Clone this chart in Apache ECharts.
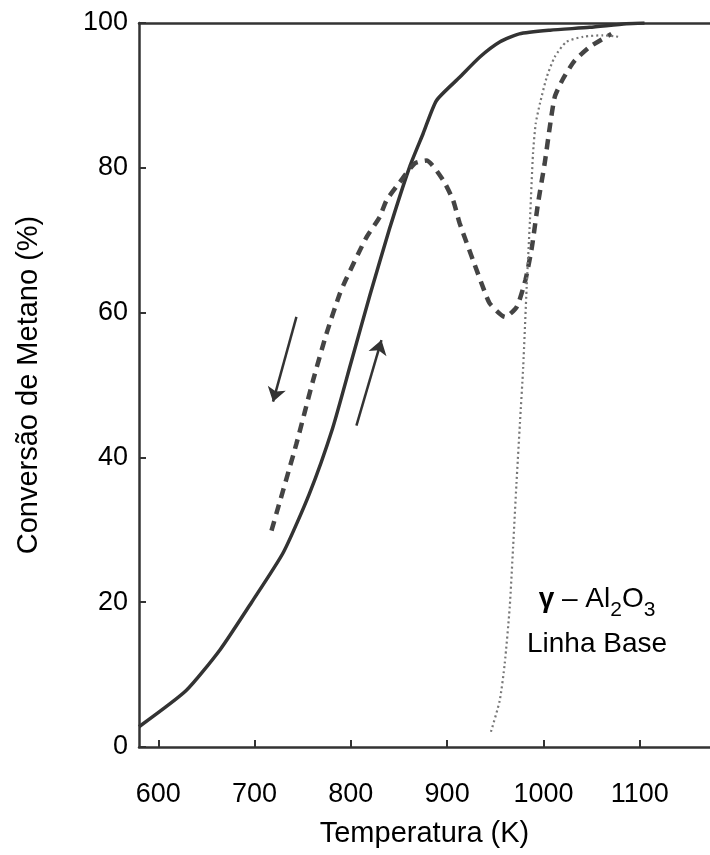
<!DOCTYPE html>
<html>
<head>
<meta charset="utf-8">
<script src="https://cdn.jsdelivr.net/npm/echarts@6/dist/echarts.min.js"></script>
<style>
  html, body { margin: 0; padding: 0; background: #fff; }
  #chart { width: 710px; height: 855px; }
</style>
</head>
<body>
<div id="chart"></div>
<script>
// eixo X (Temperatura, K)
const xTicks = [600, 700, 800, 900, 1000, 1100];
const yTicks = [0, 20, 40, 60, 80, 100];

// aquecimento - linha cheia
const heatTemp = [580, 629, 664, 697, 730, 757, 781, 800, 820, 840, 861, 875, 889, 913, 934, 955, 975, 1007, 1048, 1086, 1105];
const heatConv = [2.8, 7.8, 13.4, 20.0, 26.9, 35.0, 44.0, 53.0, 62.5, 71.5, 80.1, 84.7, 89.3, 92.5, 95.3, 97.4, 98.5, 99.0, 99.4, 99.9, 100];

// resfriamento - tracejada
const coolTemp = [717.6, 743.5, 760.7, 774.7, 788.5, 795.4, 816.2, 830, 837, 850.8, 866.3, 878.5, 895.8, 906.2, 913.1, 927, 939.8, 944.6, 960.2, 972.3, 981.3, 988.1, 994.4, 1001.3, 1006.6, 1011.8, 1020.4, 1032.5, 1048.1, 1070.6];
const coolConv = [29.9, 41.9, 50.6, 57.1, 62.6, 64.7, 70.4, 73.2, 75.5, 78.0, 80.6, 81.0, 78.3, 75.5, 72.3, 67.2, 62.6, 61.2, 59.4, 60.8, 64.5, 69.1, 75.1, 80.6, 85.6, 89.8, 92.3, 94.8, 96.7, 98.5];

// gama-Al2O3 linha base - pontilhada
const baseTemp = [945.5, 954.6, 959.8, 965, 968.5, 972, 975.6, 979, 982.6, 986, 989.2, 992, 996.4, 1003.4, 1011.7, 1023.9, 1041.2, 1062, 1077.6];
const baseConv = [2.1, 6.4, 11.5, 19.3, 27.6, 36.4, 44.7, 52.5, 63.5, 72.7, 82.0, 86.1, 88.9, 92.5, 95.3, 97.4, 98.1, 98.3, 98.1];

// setas
const arrowDown = [[743.5, 59.4], [719.2, 47.7]];
const arrowUp = [[805.8, 44.4], [831.8, 56.2]];

const zip = (xs, ys) => xs.map((x, i) => [x, ys[i]]);

const FONT = '"Liberation Sans", Arial, sans-serif';
const INK = '#000';
const AXIS = '#333';

const chart = echarts.init(document.getElementById('chart'));

// medir texto para os subscritos
const ctx = document.createElement('canvas').getContext('2d');
function textW(t, size, weight) {
    ctx.font = (weight || 'normal') + ' ' + size + 'px ' + FONT;
    return ctx.measureText(t).width;
}

const pieces = [
    { t: 'γ', size: 28, dy: 0, weight: 'bold' },
    { t: ' – Al', size: 28, dy: 0 },
    { t: '2', size: 21, dy: 9 },
    { t: 'O', size: 28, dy: 0 },
    { t: '3', size: 21, dy: 9 }
];
let total = 0;
pieces.forEach(p => { p.w = textW(p.t, p.size, p.weight); total += p.w; });
let cx = 597 - total / 2;
const labelGraphics = pieces.map(p => {
    const el = {
        type: 'text',
        x: cx,
        // baseline -> fundo da caixa de texto
        y: 607 + p.dy + p.size * 0.21,
        style: {
            text: p.t,
            font: (p.weight || 'normal') + ' ' + p.size + 'px ' + FONT,
            fill: INK,
            textAlign: 'left',
            textVerticalAlign: 'bottom'
        }
    };
    cx += p.w;
    return el;
});
labelGraphics.push({
    type: 'text',
    x: 597,
    y: 652 + 28 * 0.21,
    style: {
        text: 'Linha Base',
        font: '28px ' + FONT,
        fill: INK,
        textAlign: 'center',
        textVerticalAlign: 'bottom'
    }
});

const option = {
    animation: false,
    backgroundColor: '#fff',
    grid: { left: 139, right: 0, top: 23, bottom: 108 },
    xAxis: [{
        type: 'value',
        min: 580,
        max: 1173,
        name: 'Temperatura (K)',
        nameLocation: 'middle',
        nameGap: 72,
        nameTextStyle: { fontFamily: FONT, fontSize: 29, color: INK },
        axisLine: { show: true, lineStyle: { color: AXIS, width: 2.5 } },
        axisTick: { show: true, inside: true, length: 7, customValues: xTicks, lineStyle: { color: AXIS, width: 2 } },
        axisLabel: {
            customValues: xTicks,
            margin: 34,
            fontFamily: FONT,
            fontSize: 27,
            color: INK,
            formatter: v => String(v)
        },
        splitLine: { show: false }
    }, {
        type: 'value',
        position: 'top',
        min: 580,
        max: 1173,
        axisLine: { show: true, lineStyle: { color: AXIS, width: 2.5 } },
        axisTick: { show: false },
        axisLabel: { show: false },
        splitLine: { show: false }
    }],
    yAxis: {
        type: 'value',
        min: 0,
        max: 100,
        interval: 20,
        name: 'Conversão de Metano (%)',
        nameLocation: 'middle',
        nameGap: 96,
        nameTextStyle: { fontFamily: FONT, fontSize: 29, color: INK },
        axisLine: { show: true, lineStyle: { color: AXIS, width: 2.5 } },
        axisTick: { show: true, inside: true, length: 7, lineStyle: { color: AXIS, width: 2 } },
        axisLabel: { margin: 11, fontFamily: FONT, fontSize: 27, color: INK },
        splitLine: { show: false }
    },
    series: [{
        name: 'aquecimento',
        type: 'line',
        data: zip(heatTemp, heatConv),
        smooth: 0.2,
        showSymbol: false,
        lineStyle: { color: '#333', width: 3.5 }
    }, {
        name: 'resfriamento',
        type: 'line',
        data: zip(coolTemp, coolConv),
        smooth: 0.2,
        showSymbol: false,
        lineStyle: { color: '#444', width: 4.5, type: [10, 7] }
    }, {
        name: 'linha base',
        type: 'line',
        data: zip(baseTemp, baseConv),
        smooth: 0.2,
        showSymbol: false,
        lineStyle: { color: '#777', width: 2.2, type: [2, 3] }
    }, {
        name: 'setas',
        type: 'lines',
        coordinateSystem: 'cartesian2d',
        symbol: ['none', 'arrow'],
        symbolSize: [10, 14],
        lineStyle: { color: '#333', width: 2.5, opacity: 1 },
        data: [{ coords: arrowDown }, { coords: arrowUp }]
    }],
    graphic: labelGraphics
};

chart.setOption(option);
</script>
</body>
</html>
